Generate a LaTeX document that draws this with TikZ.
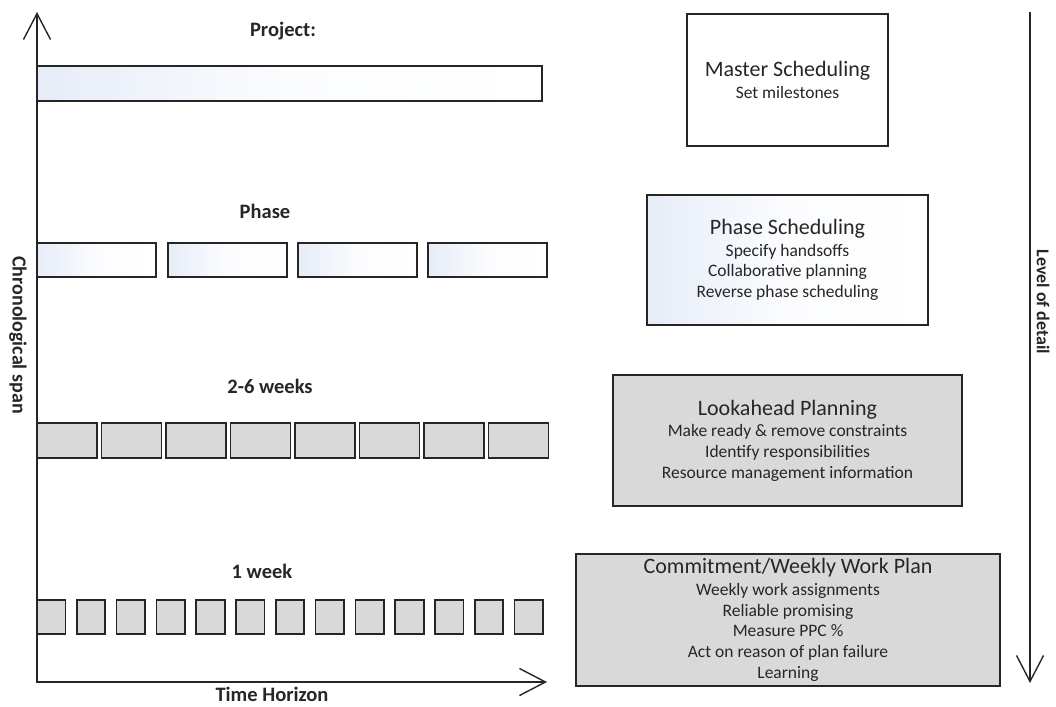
\documentclass[tikz,border=0pt]{standalone}
\usepackage{fontspec}
\setmainfont{Carlito}
\usetikzlibrary{arrows.meta}
\definecolor{boxgray}{HTML}{D9D9D9}
\definecolor{edge}{HTML}{262626}
\definecolor{tint}{HTML}{E6ECF7}
\definecolor{ink}{HTML}{262626}
\begin{document}
\begin{tikzpicture}[x=1pt,y=-1pt,
  axis/.style={line width=1.4pt, draw=edge,
    arrows={Straight Barb[length=26pt,width=27pt,line width=1.4pt]-Straight Barb[length=26pt,width=27pt,line width=1.4pt]}},
  detail/.style={line width=1.4pt, draw=edge,
    -{Straight Barb[length=26pt,width=27pt,line width=1.4pt]}},
  slot/.style={draw=edge, line width=1.7pt, anchor=north west, inner sep=0pt, outer sep=0pt},
  lightslot/.style={slot, left color=tint, right color=white, middle color=white!85!tint},
  grayslot/.style={slot, fill=boxgray},
  rowlabel/.style={font=\fontsize{20.5}{23}\selectfont\bfseries, text=ink, inner sep=0pt},
  sidelabel/.style={font=\fontsize{20}{23}\selectfont\bfseries, text=ink, inner sep=0pt, rotate=-90},
  planbox/.style={draw=edge, line width=1.6pt, align=center, text=ink,
    font=\fontsize{17.5}{20.7}\selectfont, inner sep=0pt},
]
\useasboundingbox (0,0) rectangle (1056,706);

% axes
\coordinate (ytop) at (37,12);
\coordinate (origin) at (37,682);
\coordinate (xend) at (547,682);
\draw[axis] (ytop) -- (origin) -- (xend);
\node[rowlabel] (timehorizon) at (272,694) {Time Horizon};
\node[sidelabel] (chrono) at (18,335) {Chronological span};

% level of detail arrow
\coordinate (dtop) at (1030,12);
\coordinate (dbot) at (1030,683);
\draw[detail] (dtop) -- (dbot);
\node[sidelabel, font=\fontsize{18}{20}\selectfont\bfseries] (lod) at (1043,302) {Level of detail};

% project row
\node[rowlabel] (lproject) at (283,31) {Project:};
\node[lightslot, minimum width=505pt, minimum height=35pt] (project) at (37,66) {};

% phase row
\node[rowlabel] (lphase) at (265,211) {Phase};
\foreach \i/\x in {1/37,2/168,3/298,4/428}
  \node[lightslot, minimum width=119pt, minimum height=34pt] (phase\i) at (\x,243) {};

% lookahead row
\node[rowlabel] (lweeks) at (270,386) {2-6 weeks};
\foreach \i in {0,...,7}
  \node[grayslot, minimum width=60pt, minimum height=35pt] (look\i) at ({37+64.5*\i},423) {};

% weekly row
\node[rowlabel] (lweek) at (262,571) {1 week};
\foreach \i in {0,...,12}
  \node[grayslot, minimum width=28.5pt, minimum height=34pt] (week\i) at ({37+39.8*\i},600) {};

% planning levels
\node[planbox, fill=white, minimum width=201pt, minimum height=132pt] (master) at (787.5,80)
  {{\fontsize{22}{25}\selectfont Master Scheduling}\\[1pt] Set milestones};
\node[planbox, left color=tint, right color=white, middle color=white!85!tint, minimum width=281pt, minimum height=130pt] (phasesched) at (787.5,260)
  {{\fontsize{22}{25}\selectfont Phase Scheduling}\\[1pt] Specify handsoffs\\ Collaborative planning\\ Reverse phase scheduling};
\node[planbox, fill=boxgray, minimum width=349pt, minimum height=131pt] (lookahead) at (787.5,440.5)
  {{\fontsize{22}{25}\selectfont Lookahead Planning}\\[1pt] Make ready \& remove constraints\\ Identify responsibilities\\ Resource management information};
\node[planbox, fill=boxgray, minimum width=424pt, minimum height=132pt] (commit) at (788,620)
  {{\fontsize{22}{25}\selectfont Commitment/Weekly Work Plan}\\[1pt] Weekly work assignments\\ Reliable promising\\ Measure PPC \%\\ Act on reason of plan failure\\ Learning};
\end{tikzpicture}
\end{document}
